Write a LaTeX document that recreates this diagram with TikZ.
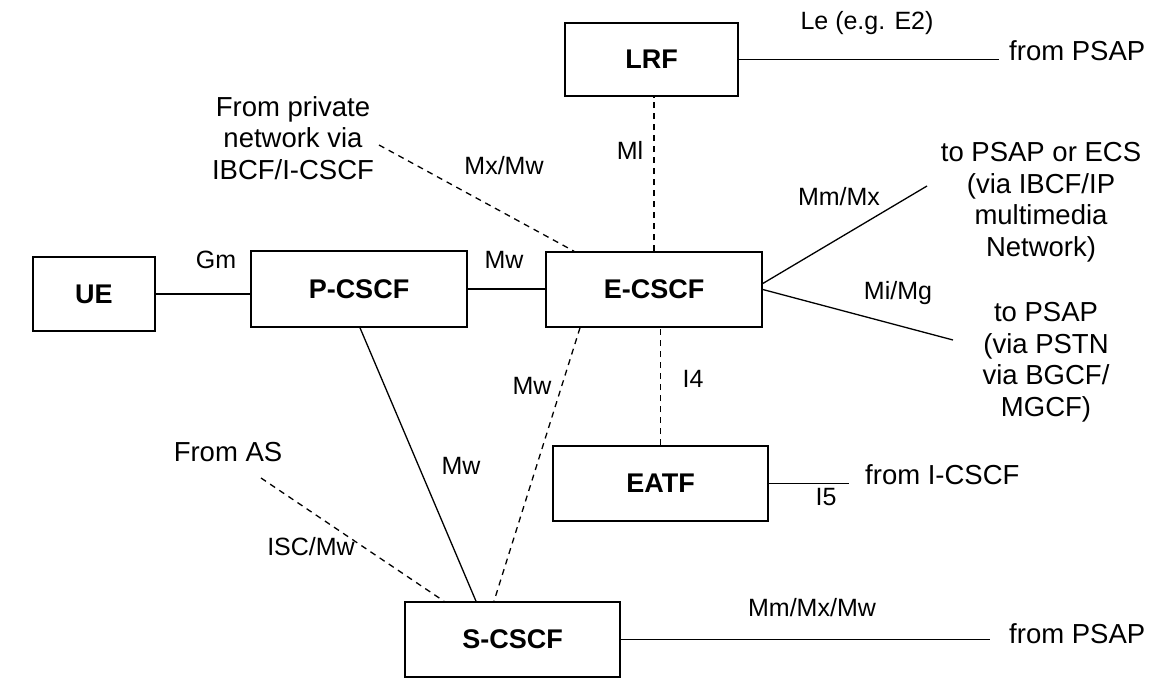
\documentclass[tikz,border=0pt]{standalone}
\usepackage{fontspec}
\setmainfont{Liberation Sans}
\begin{document}
\begin{tikzpicture}[x=1pt,y=-1pt,
  every node/.style={font=\fontsize{27.5}{31.5}\selectfont, inner sep=0pt},
  fbox/.style={draw, line width=1.6pt, font=\fontsize{27}{31.5}\selectfont\bfseries},
  link/.style={line width=1.3pt},
  dlink/.style={line width=1.3pt, dash pattern=on 6pt off 5pt},
  lbl/.style={text height=0.72em, text depth=0pt},
  iface/.style={lbl, font=\fontsize{25}{30}\selectfont},
  multi/.style={align=center}]
\useasboundingbox (0,0) rectangle (1172,690);

% Functional entities
\node[fbox, minimum width=122, minimum height=74] (ue)    at (94,294)    {UE};
\node[fbox, minimum width=216, minimum height=76] (pcscf) at (359,289)   {P-CSCF};
\node[fbox, minimum width=216, minimum height=75] (ecscf) at (654,289.5) {E-CSCF};
\node[fbox, minimum width=173, minimum height=73] (lrf)   at (651.5,59.5){LRF};
\node[fbox, minimum width=215, minimum height=75] (eatf)  at (660.5,483.5){EATF};
\node[fbox, minimum width=215, minimum height=75] (scscf) at (512.5,639.5){S-CSCF};

% External endpoints
\node[anchor=west, lbl] (psapA) at (1009,57)  {from PSAP};
\node[anchor=west, lbl] (icscf) at (865,481)  {from I-CSCF};
\node[anchor=west, lbl] (psapB) at (1009,640) {from PSAP};
\node[multi] (ecs)  at (1041,202) {to PSAP or ECS\\(via IBCF/IP\\multimedia\\Network)};
\node[multi] (pstn) at (1046,362) {to PSAP\\(via PSTN\\via BGCF/\\MGCF)};
\node[multi] (priv) at (293,138)  {From private\\network via\\IBCF/I-CSCF};
\node[lbl] (as) at (228,458) {From AS};

% Free ends of the interfaces
\coordinate (ecsEnd)   at (927,186);
\coordinate (pstnEnd)  at (953,340);
\coordinate (privEnd)  at (379,145);
\coordinate (asEnd)    at (261,478);
\coordinate (psapAEnd) at (999,58);
\coordinate (icscfEnd) at (849,481);
\coordinate (psapBEnd) at (990,641);

% Solid interfaces
\draw[link] (ue.east) -- (ue.east -| pcscf.west);
\draw[link] (pcscf.east) -- (pcscf.east -| ecscf.west);
\draw[link] (lrf.east) -- (lrf.east -| psapAEnd);
\draw[link] (eatf.east) -- (eatf.east -| icscfEnd);
\draw[link] (scscf.east) -- (scscf.east -| psapBEnd);
\draw[link] (ecscf.east) ++(0,-6) coordinate (eo1) -- (ecsEnd);
\draw[link] (ecscf.east) coordinate (eo2) -- (pstnEnd);
\draw[link] (pcscf.south) ++(1,0) coordinate (ps1) -- (scscf.north -| 476,0);

% Dashed interfaces
\draw[dlink] (ecscf.north) -- (ecscf.north |- lrf.south);
\draw[dlink] (eatf.north) -- (eatf.north |- ecscf.south);
\draw[dlink] (ecscf.south -| 580,0) -- (scscf.north -| 494,0);
\draw[dlink] (privEnd) -- (ecscf.north -| 574,0);
\draw[dlink] (asEnd) -- (scscf.north -| 444,0);

% Interface labels
\node[iface] (lGm)   at (216,265) {Gm};
\node[iface] (lMw1)  at (504,265) {Mw};
\node[iface] (lMxMw) at (504,171) {Mx/Mw};
\node[iface] (lMl)   at (630,156) {Ml};
\node[iface] (lLe)   at (867,26)  {Le (e.g. E2)};
\node[iface] (lMmMx) at (839,202) {Mm/Mx};
\node[iface] (lMiMg) at (898,296) {Mi/Mg};
\node[iface] (lI4)   at (693,384) {I4};
\node[iface] (lI5)   at (826,502) {I5};
\node[iface] (lMw2)  at (532,391) {Mw};
\node[iface] (lMw3)  at (461,471) {Mw};
\node[iface] (lISC)  at (311,552) {ISC/Mw};
\node[iface] (lMMM)  at (812,613) {Mm/Mx/Mw};
\end{tikzpicture}
\end{document}
